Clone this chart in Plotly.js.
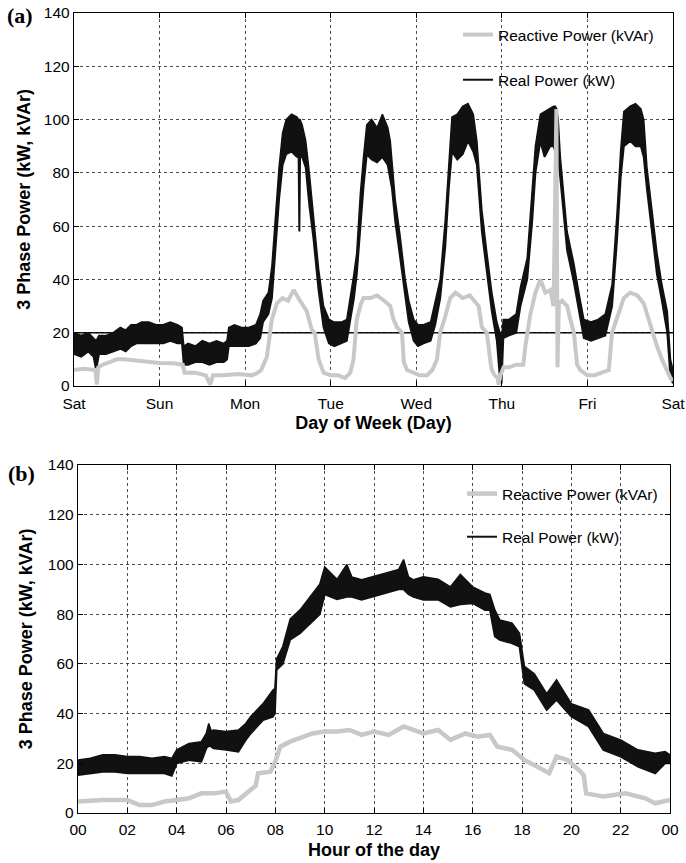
<!DOCTYPE html>
<html><head><meta charset="utf-8">
<script src="https://cdn.plot.ly/plotly-3.0.1.min.js"></script>
<style>html,body{margin:0;padding:0;background:#fff}#chart{width:686px;height:863px}</style>
</head><body><div id="chart"></div>
<script>
// ---------- (a) week, hours since Saturday 00:00 ----------
const dayTicks = [0, 24, 48, 72, 96, 120, 144, 168];
const dayLabels = ['Sat', 'Sun', 'Mon', 'Tue', 'Wed', 'Thu', 'Fri', 'Sat'];

const weekRealHours = [0,2,4,5.5,6.2,7,9,11,13,14.5,16,17.5,19,21,23,25,27,29,30.3,30.8,32,34,36,38,40,42,42.9,43.4,45,47,49,51,52.2,53,54.5,55.5,56.5,57.5,58.5,59.5,61,62.5,63,63.2,63.4,64,65,66,67.2,68.6,70,71.5,73,75,76.5,77.5,78.5,79.3,80.3,81.2,82.1,83.5,85,86.5,88,88.7,89.2,90.1,91.5,92.9,93.9,95.3,96.5,98,100,101.3,102.7,104.1,105.1,106,107.5,109,110.5,112,113,114.4,115.8,117.2,118.6,119.4,119.9,120.4,122,124,125.2,127.1,128.5,129.4,130.8,132,133.5,134.5,135,135.2,135.4,135.8,136.4,138.3,140.2,141.6,143,145,147,149,150.9,152.3,153.3,154.2,156,157.5,159,159.8,160.7,162.1,163.5,164.9,166.4,167.3,168];
const weekRealLow  = [12,11,13,11,6,12,12,13,14,13,15,16,16,16,16,16,17,16,16,8,8,9,9,8,9,9,10,15,15,15,15,16,18,24,27,33,50,70,83,87,88,86,86,58,86,86,82,68,55,36,22,16,15,16,17,25,33,42,60,75,87,85,84,86,83,78,74,62,48,33,24,17,15,16,17,23,33,52,74,88,85,87,92,88,83,58,43,28,17,4,1,18,19,20,30,40,62,80,92,86,90,90,88,68,88,85,78,51,39,28,18,17,18,19,30,55,78,90,92,90,90,86,74,58,42,32,20,3,1];
const weekRealHigh = [20,19,20,18,17,19,19,20,22,21,23,23,24,24,23,23,24,23,22,15,16,15,17,16,17,16,17,22,23,22,22,23,27,32,35,45,62,82,95,100,102,101,100,100,100,98,92,80,62,44,30,25,24,24,25,33,42,50,72,86,98,100,97,102,97,92,84,70,56,40,32,25,23,23,24,32,40,62,84,101,102,105,106,102,92,66,50,35,24,20,18,25,25,27,37,48,74,90,102,103,104,105,105,104,104,100,86,58,46,35,25,24,25,27,38,65,88,103,105,106,104,100,82,66,50,38,28,10,6];

const weekReactHours = [0,3,6,6.4,6.8,8,10,12,14,17,20,24,28,30.5,31,34,37,38.2,39,42,46,50,51.5,52.5,54.1,55.5,56.9,58.5,60,61.6,63.4,65.3,66.7,67.5,68.6,70,72,74,76,77.5,78.4,79.3,80.5,81.2,83.1,85,87,88.7,89.6,90.6,92,92.5,93.4,95,97,99,100.5,101.8,102.7,104.1,105.5,107,109,111,113,113.5,114.4,115.8,116.8,117.2,118,118.8,119.1,119.6,120.5,122,124,126,126.6,128,129.4,130.8,132.2,133.6,134.5,135.3,135.6,136,136.9,138.3,139.2,140.2,141.1,142,144,146,148,150,150.9,152.3,154.2,156,158,159.8,160.7,162.1,163.5,164.9,165.9,167.3,168];
const weekReact = [6,6.5,6,0.5,7,8,9,10,10,9.5,9,8.6,8.5,8,5,5,4,0.5,4,4,4.5,4,5,6,11,25,31,33,32,36,32,28,21,20,10,5,4,4,3,5,10,25,31,33,33,34,32,30,25,22,20,9,6,5,4,4,6,10,20,26,33,35,33,34,31,30,22,20,9,6,4,3,0.5,4,7,7,8,8,15,27,35,40,35,36,30,104,7,31,32,30,25,20,8,6,4,4,5,6,20,26,33,35,34,31,27,20,15,10,7,3,2];

// ---------- (b) one day, hour of day ----------
const hourTicks = [0,2,4,6,8,10,12,14,16,18,20,22,24];
const hourLabels = ['00','02','04','06','08','10','12','14','16','18','20','22','00'];

const dayRealHours = [0,0.5,1,1.5,2,2.5,3,3.5,3.8,4,4.5,5,5.2,5.3,5.4,5.5,6,6.5,6.8,7,7.5,7.9,7.98,8.05,8.3,8.6,9,9.5,9.8,10,10.5,10.9,11.1,11.5,11.9,12.4,13,13.2,13.4,13.6,14,14.6,15.1,15.5,16,16.5,16.7,16.9,17.1,17.6,17.9,18.1,18.5,19,19.4,20,20.7,21.3,22,22.7,23.4,23.8,24];
const dayRealLow  = [15.3,16,16.6,16.6,16,16,16,16,15,20,21.3,20.7,26,27,26.7,26,25.4,24.7,29.4,32,37.4,38.8,40,57.6,60,69.7,72.3,77,80,88,86,87,87,85.8,87,88.5,90,90,88,87,85.8,85.8,83,84,84.4,81.7,81.7,71,69.7,68.3,67,52,49.5,41.5,45.5,38.8,34.8,25.4,22.7,18.7,16,20,20];
const dayRealHigh = [21.3,22,23.4,23.4,22.7,22.7,22,22.7,22,25.4,28,28.7,32,36,33,33.4,32.8,33.4,36,38.8,44,49.5,50,62,67,78,81.7,88,92,99,94,100,95,93.8,95,96.5,98,102,95,93.8,95,94,91,96,91,88.5,88,81.7,77.7,76.4,72.3,59,56,48,53.6,44,41.5,32,29.4,25.4,24,24.7,23.4];

const dayReactHours = [0,1,2,2.5,3,3.5,4,4.5,5,5.5,6,6.2,6.5,7,7.2,7.3,7.8,8,8.2,8.6,9,9.5,10,10.5,11,11.5,12,12.6,13.2,14,14.6,15.1,15.7,16.2,16.7,17,17.6,18.1,18.6,19.1,19.4,19.85,20.3,20.5,20.6,21.3,22.2,23,23.4,24];
const dayReact = [4.6,5.2,5.2,3.2,3.2,4.6,5.2,5.9,7.9,7.9,8.6,4.6,5.2,9.3,11,16,16.6,20.7,26.7,28.7,30,32,32.8,32.8,33.4,31.4,32.8,31.4,34.8,32,33.4,29.4,32,30.7,31.4,26.7,25.4,21.3,18.7,16,22.7,21.3,17.3,15.3,7.9,6.6,7.9,5.9,3.9,5.2];

// ---------- styling ----------
const FONT = 'Liberation Sans, Arial, Helvetica, sans-serif';
const W = 686, H = 863;
const px = v => v / W;
const py = v => 1 - v / H;
const BLACK = '#111111', GREY = '#c8c8c8';

function axisBase() {
  return {
    showgrid: true, gridcolor: '#222', gridwidth: 0.8, griddash: '3px,3px',
    showline: true, linecolor: '#000', linewidth: 1.2, mirror: 'ticks',
    ticks: 'inside', ticklen: 5, tickcolor: '#000', zeroline: false,
    tickfont: {family: FONT, size: 15.5, color: '#000'}, fixedrange: true
  };
}
const titleFont = {family: FONT, size: 18, color: '#000', weight: 'bold'};

const traces = [
  {x: weekRealHours, y: weekRealLow, type: 'scatter', mode: 'lines', name: 'Real Power (kW)',
   line: {color: BLACK, width: 2}, xaxis: 'x', yaxis: 'y', legend: 'legend', legendgroup: 'a_real', legendrank: 2},
  {x: weekRealHours, y: weekRealHigh, type: 'scatter', mode: 'lines', name: 'Real Power (kW)',
   line: {color: BLACK, width: 1.5}, fill: 'tonexty', fillcolor: BLACK, showlegend: false,
   xaxis: 'x', yaxis: 'y', legendgroup: 'a_real'},
  {x: weekReactHours, y: weekReact, type: 'scatter', mode: 'lines', name: 'Reactive Power (kVAr)',
   line: {color: GREY, width: 4}, xaxis: 'x', yaxis: 'y', legend: 'legend', legendgroup: 'a_react', legendrank: 1},

  {x: dayRealHours, y: dayRealLow, type: 'scatter', mode: 'lines', name: 'Real Power (kW)',
   line: {color: BLACK, width: 2}, xaxis: 'x2', yaxis: 'y2', legend: 'legend2', legendgroup: 'b_real', legendrank: 2},
  {x: dayRealHours, y: dayRealHigh, type: 'scatter', mode: 'lines', name: 'Real Power (kW)',
   line: {color: BLACK, width: 1.5}, fill: 'tonexty', fillcolor: BLACK, showlegend: false,
   xaxis: 'x2', yaxis: 'y2', legendgroup: 'b_real'},
  {x: dayReactHours, y: dayReact, type: 'scatter', mode: 'lines', name: 'Reactive Power (kVAr)',
   line: {color: GREY, width: 4.5}, xaxis: 'x2', yaxis: 'y2', legend: 'legend2', legendgroup: 'b_react', legendrank: 1}
];

const layout = {
  width: W, height: H,
  margin: {l: 0, r: 0, t: 0, b: 0},
  paper_bgcolor: '#fff', plot_bgcolor: '#fff',
  showlegend: true,
  xaxis: Object.assign(axisBase(), {
    domain: [px(74), px(673)], range: [0, 168], anchor: 'y',
    tickmode: 'array', tickvals: dayTicks, ticktext: dayLabels, ticklabelstandoff: 3,
    title: {text: 'Day of Week (Day)', font: titleFont, standoff: 5}
  }),
  yaxis: Object.assign(axisBase(), {
    domain: [py(386), py(13)], range: [0, 140], anchor: 'x', dtick: 20, tick0: 0,
    title: {text: '3 Phase Power (kW, kVAr)', font: titleFont, standoff: 8}
  }),
  xaxis2: Object.assign(axisBase(), {
    domain: [px(78), px(670)], range: [0, 24], anchor: 'y2',
    tickmode: 'array', tickvals: hourTicks, ticktext: hourLabels, ticklabelstandoff: 2,
    title: {text: 'Hour of the day', font: titleFont, standoff: 6}
  }),
  yaxis2: Object.assign(axisBase(), {
    domain: [py(813), py(465)], range: [0, 140], anchor: 'x2', dtick: 20, tick0: 0,
    title: {text: '3 Phase Power (kW, kVAr)', font: titleFont, standoff: 10}
  }),
  legend: {x: px(458), y: py(18), xanchor: 'left', yanchor: 'top', bgcolor: 'rgba(0,0,0,0)',
           font: {family: FONT, size: 15.5, color: '#000'}, traceorder: 'grouped', tracegroupgap: 22},
  legend2: {x: px(462), y: py(477), xanchor: 'left', yanchor: 'top', bgcolor: 'rgba(0,0,0,0)',
            font: {family: FONT, size: 15.5, color: '#000'}, traceorder: 'grouped', tracegroupgap: 20},
  shapes: [
    {type: 'line', xref: 'x', yref: 'y', x0: 0, x1: 168, y0: 20, y1: 20,
     line: {color: '#000', width: 1.5}, layer: 'below'}
  ],
  annotations: [
    {text: '<b>(a)</b>', xref: 'paper', yref: 'paper', x: px(20), y: py(15), showarrow: false,
     xanchor: 'center', yanchor: 'middle', font: {family: 'Liberation Serif, Times New Roman, serif', size: 22, color: '#000'}},
    {text: '<b>(b)</b>', xref: 'paper', yref: 'paper', x: px(21), y: py(473), showarrow: false,
     xanchor: 'center', yanchor: 'middle', font: {family: 'Liberation Serif, Times New Roman, serif', size: 22, color: '#000'}}
  ]
};

Plotly.newPlot('chart', traces, layout, {staticPlot: true, displayModeBar: false});
</script></body></html>
